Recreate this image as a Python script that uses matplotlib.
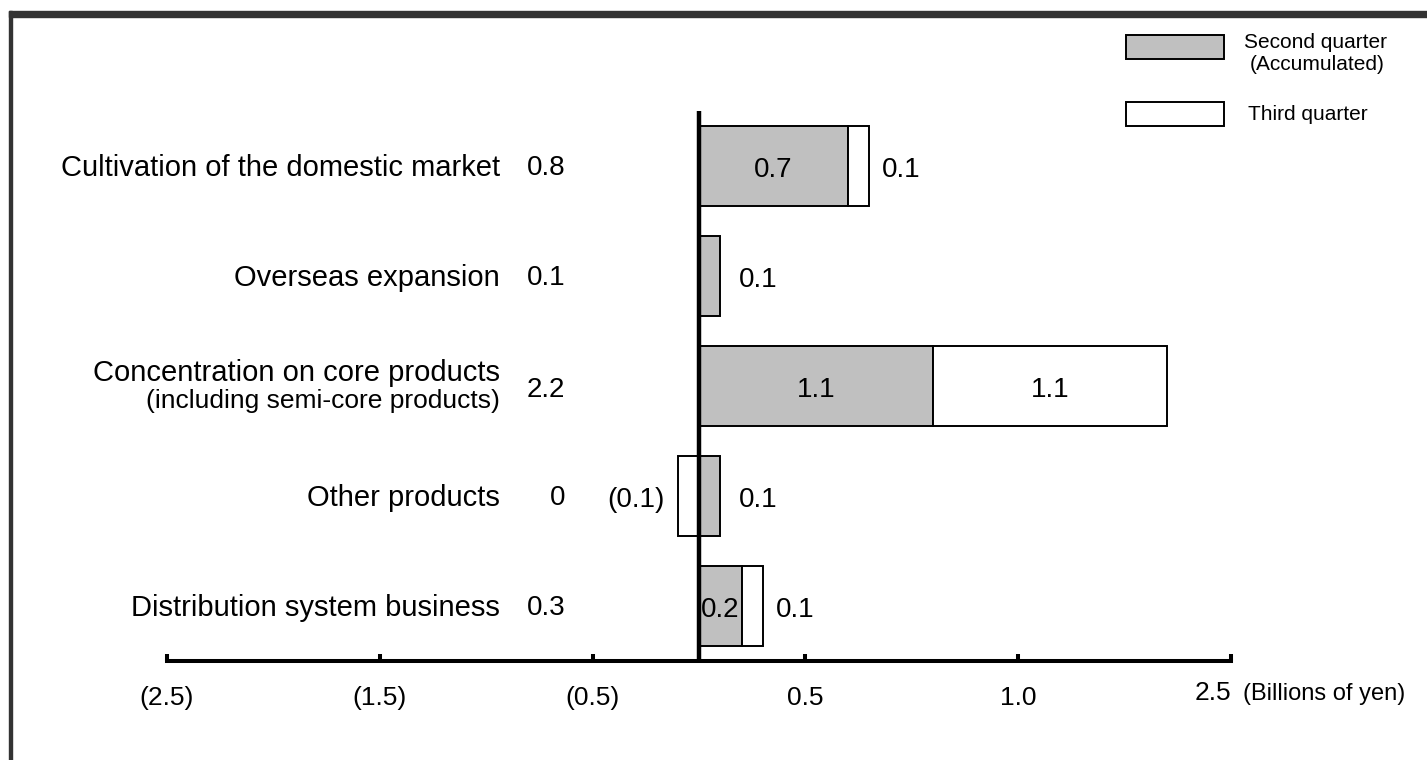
import matplotlib
matplotlib.use("Agg")
import matplotlib.pyplot as plt
from matplotlib.patches import Rectangle
from matplotlib.transforms import blended_transform_factory

plt.rcParams['font.family'] = ['Liberation Sans', 'DejaVu Sans']

# ---- data ----
categories = ["Cultivation of the domestic market", "Overseas expansion",
              "Concentration on core products", "Other products",
              "Distribution system business"]
subtitles = ["", "", "(including semi-core products)", "", ""]
totals = ["0.8", "0.1", "2.2", "0", "0.3"]
q2 = [0.7, 0.1, 1.1, 0.1, 0.2]      # Second quarter (Accumulated)
q3 = [0.1, 0.0, 1.1, -0.1, 0.1]     # Third quarter
tick_pos = [-2.5, -1.5, -0.5, 0.5, 1.5, 2.5]
tick_labels = ["(2.5)", "(1.5)", "(0.5)", "0.5", "1.0", "2.5"]
unit_label = "(Billions of yen)"
legend_labels = [["Second quarter", "(Accumulated)"], ["Third quarter"]]

GREY = "#c0c0c0"
W, H = 1427, 760


def fx(px):
    return px / W


def fy(py):
    return 1 - py / H


def fmt(v):
    return f"({abs(v):.1f})" if v < 0 else f"{v:.1f}"


fig = plt.figure(figsize=(W / 100, H / 100), dpi=100)

# frame
fig.patches.append(Rectangle((fx(9), fy(17)), 1 - fx(9), fy(11) - fy(17),
                             transform=fig.transFigure, color="#333333", zorder=0))
fig.patches.append(Rectangle((fx(9), 0), fx(12) - fx(9), fy(11),
                             transform=fig.transFigure, color="#333333", zorder=0))

ax = fig.add_axes([fx(167), fy(661), fx(1231) - fx(167), fy(111) - fy(661)])
ax.set_xlim(-2.5, 2.5)
ax.set_ylim(4.5, -0.5)
ax.patch.set_visible(False)
for s in ["top", "left", "right"]:
    ax.spines[s].set_visible(False)
ax.spines["bottom"].set_linewidth(2.9)
ax.set_yticks([])
ax.set_xticks(tick_pos)
ax.set_xticklabels([])
ax.tick_params(axis="x", direction="in", length=5, width=2.9, color="black")

ypos = list(range(len(categories)))
bh = 0.72
ax.barh(ypos, q2, height=bh, color=GREY, edgecolor="black", linewidth=1.4, zorder=2)
for i in ypos:
    if q3[i] != 0:
        left = q2[i] if q3[i] > 0 else 0
        ax.barh(i, q3[i], left=left, height=bh, color="white",
                edgecolor="black", linewidth=1.4, zorder=2)
ax.axvline(0, color="black", lw=3.2, zorder=5)

# value labels
off = 13 / 212.8
vfs = 20
dy = 0.04
for i in ypos:
    right_end = max(q2[i], q2[i] + max(q3[i], 0))
    # second-quarter segment
    if abs(q2[i]) >= 0.2:
        ax.text(q2[i] / 2, i + dy, fmt(q2[i]), ha="center", va="center", fontsize=vfs, zorder=6)
    else:
        ax.text(right_end + off * 1.4, i + dy, fmt(q2[i]), ha="left", va="center", fontsize=vfs, zorder=6)
    # third-quarter segment
    if q3[i] > 0:
        if q3[i] >= 0.2:
            ax.text(q2[i] + q3[i] / 2, i + dy, fmt(q3[i]), ha="center", va="center", fontsize=vfs, zorder=6)
        else:
            ax.text(right_end + off, i + dy, fmt(q3[i]), ha="left", va="center", fontsize=vfs, zorder=6)
    elif q3[i] < 0:
        ax.text(q3[i] - off, i + dy, fmt(q3[i]), ha="right", va="center", fontsize=vfs, zorder=6)

# category labels and totals
tr = blended_transform_factory(fig.transFigure, ax.transData)
for i, (c, sub, t) in enumerate(zip(categories, subtitles, totals)):
    if sub:
        fig.text(fx(500), i - 0.12, c, transform=tr, ha="right", va="center", fontsize=21)
        fig.text(fx(500), i + 0.135, sub, transform=tr, ha="right", va="center", fontsize=19)
        fig.text(fx(565), i + 0.04, t, transform=tr, ha="right", va="center", fontsize=20)
    else:
        fig.text(fx(500), i + 0.015, c, transform=tr, ha="right", va="center", fontsize=21)
        fig.text(fx(565), i + 0.015, t, transform=tr, ha="right", va="center", fontsize=20)

# x tick labels
trx = blended_transform_factory(ax.transData, fig.transFigure)
for p, lab in zip(tick_pos, tick_labels):
    if p == tick_pos[-1]:
        fig.text(p, fy(693), lab, transform=trx, ha="right", va="center", fontsize=19)
    else:
        fig.text(p, fy(698), lab, transform=trx, ha="center", va="center", fontsize=19)
fig.text(fx(1243), fy(694), unit_label, ha="left", va="center", fontsize=17)

# legend
fig.patches.append(Rectangle((fx(1126), fy(59)), fx(1224) - fx(1126), fy(35) - fy(59),
                             transform=fig.transFigure, facecolor=GREY,
                             edgecolor="black", linewidth=1.4))
fig.patches.append(Rectangle((fx(1126), fy(126)), fx(1224) - fx(1126), fy(102) - fy(126),
                             transform=fig.transFigure, facecolor="white",
                             edgecolor="black", linewidth=1.4))
fig.text(fx(1315), fy(42), legend_labels[0][0], ha="center", va="center", fontsize=15)
fig.text(fx(1317), fy(64), legend_labels[0][1], ha="center", va="center", fontsize=15)
fig.text(fx(1248), fy(115), legend_labels[1][0], ha="left", va="center", fontsize=15)

fig.savefig("out.png", dpi=100)
